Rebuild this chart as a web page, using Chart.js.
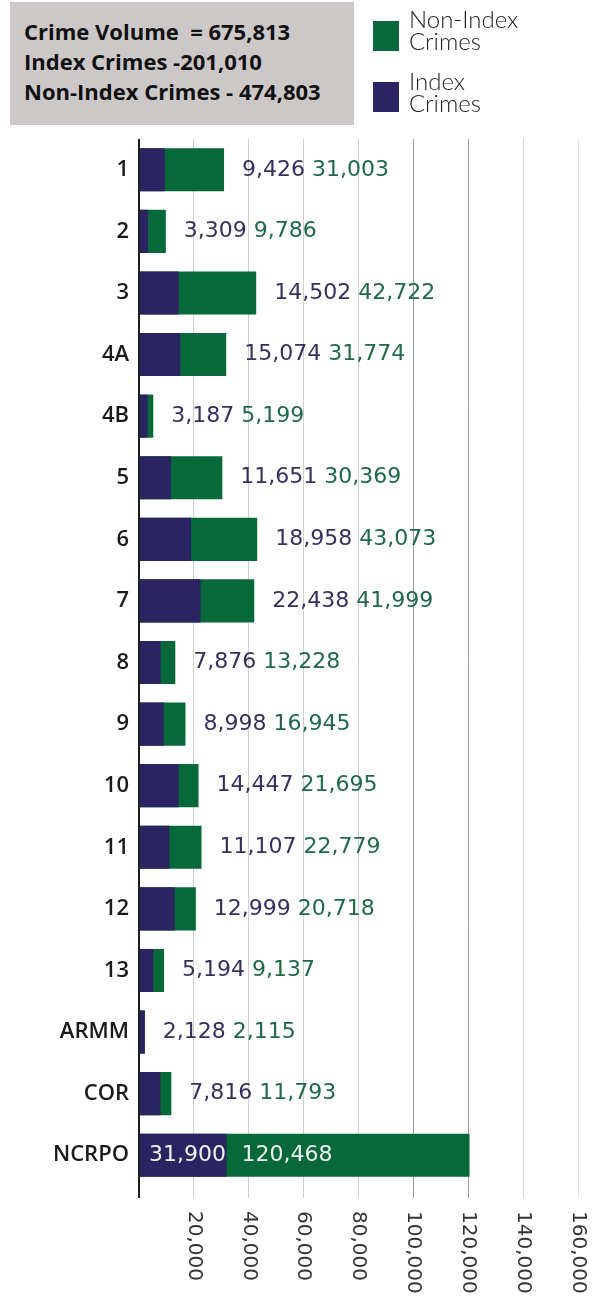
<!DOCTYPE html>
<html>
<head>
<meta charset="utf-8">
<script src="https://cdn.jsdelivr.net/npm/chart.js@4"></script>
<style>
  html, body { margin: 0; padding: 0; background: #fff; }
  #wrap { position: relative; width: 592px; height: 1296px; }
  #chart { position: absolute; left: 0; top: 0; }
  .summary {
    position: absolute; left: 10px; top: 2px; width: 344px; height: 123px;
    background: #cdc8c8; box-sizing: border-box; padding: 14px 0 0 14px;
    font-family: "Open Sans", Lato, sans-serif; font-weight: 700; font-size: 22px;
    line-height: 30px; color: #111;
  }
  .key { position: absolute; width: 26px; height: 30px; left: 373px; }
  .keytext {
    position: absolute; left: 409px; font-family: Lato, sans-serif; font-weight: 300;
    font-size: 24px; line-height: 22px; color: #222;
  }
</style>
</head>
<body>
<div id="wrap">
  <canvas id="chart" width="592" height="1296"></canvas>
  <div class="summary">
    Crime Volume &nbsp;= 675,813<br>
    Index Crimes -201,010<br>
    Non-Index Crimes - 474,803
  </div>
  <div class="key" style="top:21px;background:#07693a"></div>
  <div class="keytext" style="top:8px">Non-Index<br>Crimes</div>
  <div class="key" style="top:82px;background:#2a2562"></div>
  <div class="keytext" style="top:70px">Index<br>Crimes</div>
</div>
<script>
var regions = ["1", "2", "3", "4A", "4B", "5", "6", "7", "8", "9", "10", "11", "12", "13", "ARMM", "COR", "NCRPO"];
var indexCrimes = [9426, 3309, 14502, 15074, 3187, 11651, 18958, 22438, 7876, 8998, 14447, 11107, 12999, 5194, 2128, 7816, 31900];
var nonIndexCrimes = [31003, 9786, 42722, 31774, 5199, 30369, 43073, 41999, 13228, 16945, 21695, 22779, 20718, 9137, 2115, 11793, 120468];
var tickLabels = [20000, 40000, 60000, 80000, 100000, 120000, 140000, 160000];

var NAVY = "#2a2562";
var GREEN = "#07693a";
var fmt = function (v) { return v.toLocaleString("en-US"); };

// numbers next to (or inside) each bar
var valueLabels = {
  id: "valueLabels",
  afterDatasetsDraw: function (chart) {
    var ctx = chart.ctx;
    var area = chart.chartArea;
    var idxMeta = chart.getDatasetMeta(0);
    var nonMeta = chart.getDatasetMeta(1);
    ctx.save();
    ctx.font = "22px 'DejaVu Sans'";
    ctx.textBaseline = "middle";
    ctx.textAlign = "left";
    for (var i = 0; i < regions.length; i++) {
      var a = fmt(indexCrimes[i]);
      var b = fmt(nonIndexCrimes[i]);
      var y = idxMeta.data[i].y;
      var end = Math.max(idxMeta.data[i].x, nonMeta.data[i].x);
      var wa = ctx.measureText(a + " ").width;
      var wb = ctx.measureText(b).width;
      if (end + 18 + wa + wb > area.right) {
        ctx.fillStyle = "#eef2f0";
        ctx.fillText(a, area.left + 10, y);
        ctx.fillText(b, idxMeta.data[i].x + 15, y);
      } else {
        ctx.fillStyle = "#34305f";
        ctx.fillText(a, end + 18, y);
        ctx.fillStyle = "#1f6a44";
        ctx.fillText(b, end + 18 + wa, y);
      }
    }
    ctx.restore();
  },
};

// x tick labels turned clockwise, reading downwards
var downTicks = {
  id: "downTicks",
  afterDraw: function (chart) {
    var ctx = chart.ctx;
    var xs = chart.scales.x;
    ctx.save();
    ctx.font = "20px 'DejaVu Sans'";
    ctx.fillStyle = "#333";
    ctx.textAlign = "left";
    ctx.textBaseline = "middle";
    tickLabels.forEach(function (v) {
      ctx.save();
      ctx.translate(xs.getPixelForValue(v), 1211);
      ctx.rotate(Math.PI / 2);
      ctx.fillText(fmt(v), 0, 0);
      ctx.restore();
    });
    ctx.restore();
  },
};

var gridColors = ["#1e1e1e", "#cfcfcf", "#cfcfcf", "#cfcfcf", "#cfcfcf", "#9a9a9a", "#9a9a9a", "#d6d6d6", "#e6e6e6"];

new Chart(document.getElementById("chart").getContext("2d"), {
  type: "bar",
  data: {
    labels: regions,
    datasets: [
      { label: "Index Crimes", data: indexCrimes, backgroundColor: NAVY },
      { label: "Non-Index Crimes", data: nonIndexCrimes, backgroundColor: GREEN },
    ],
  },
  options: {
    indexAxis: "y",
    responsive: false,
    animation: false,
    devicePixelRatio: 1,
    layout: { padding: { top: 139, right: 14, left: 0, bottom: 0 } },
    datasets: {
      bar: { grouped: false, barPercentage: 1, categoryPercentage: 0.7 },
    },
    scales: {
      x: {
        min: 0,
        max: 160000,
        ticks: { stepSize: 20000, display: false },
        grid: {
          color: function (c) { return gridColors[c.index] || "#ccc"; },
          lineWidth: function (c) { return c.index === 0 ? 2 : 1; },
          drawTicks: true,
          tickLength: 12,
        },
        border: { display: false },
        afterFit: function (s) { s.height = 110; },
      },
      y: {
        grid: { display: false, drawTicks: false },
        border: { display: false },
        ticks: {
          padding: 10,
          color: "#1a1a1a",
          font: { family: "Open Sans", weight: "600", size: 22 },
        },
        afterFit: function (s) { s.width = 139; },
      },
    },
    plugins: {
      legend: { display: false },
      tooltip: { enabled: false },
    },
  },
  plugins: [valueLabels, downTicks],
});
</script>
</body>
</html>
